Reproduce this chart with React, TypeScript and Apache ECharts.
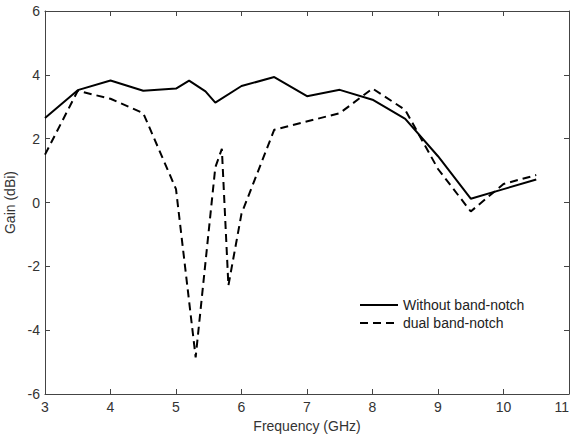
import React, { useEffect, useRef } from "react";
import * as echarts from "echarts";

const freqSolid = [3.0, 3.5, 4.0, 4.5, 5.0, 5.2, 5.45, 5.6, 6.0, 6.5, 7.0, 7.5, 8.0, 8.5, 9.0, 9.5, 10.0, 10.5];
const gainSolid = [2.65, 3.52, 3.82, 3.5, 3.57, 3.82, 3.48, 3.13, 3.65, 3.93, 3.33, 3.53, 3.22, 2.62, 1.45, 0.12, 0.42, 0.72];
const freqDual = [3.0, 3.5, 4.0, 4.5, 5.0, 5.3, 5.6, 5.7, 5.8, 6.0, 6.5, 7.5, 8.0, 8.5, 9.0, 9.5, 10.0, 10.5];
const gainDual = [1.5, 3.5, 3.25, 2.8, 0.42, -4.85, 1.1, 1.68, -2.6, -0.35, 2.28, 2.8, 3.57, 2.9, 1.05, -0.28, 0.58, 0.86];
const seriesNames = ["Without band-notch", "dual band-notch"];
const xLabel = "Frequency (GHz)";
const yLabel = "Gain (dBi)";

export default function App() {
  const ref = useRef<HTMLDivElement>(null);
  useEffect(() => {
    document.body.style.margin = "0";
    const chart = echarts.init(ref.current!, null, { renderer: "svg" });
    const font = "Arial, 'Liberation Sans', sans-serif";
    const axisColor = "#444";
    const common = {
      type: "value" as const,
      axisLine: { show: true, onZero: false, lineStyle: { color: axisColor, width: 1 } },
      axisTick: { show: true, inside: true, length: 5, lineStyle: { color: axisColor } },
      splitLine: { show: false },
    };
    chart.setOption({
      animation: false,
      backgroundColor: "#fff",
      grid: { left: 45, right: 5, top: 11, bottom: 41, containLabel: false, outerBoundsMode: "none" },
      legend: {
        orient: "vertical",
        left: 354,
        top: 293,
        itemWidth: 38,
        itemHeight: 14,
        itemGap: 4,
        itemStyle: { opacity: 0 },
        textStyle: { fontFamily: font, fontSize: 14, color: "#222" },
        data: seriesNames,
      },
      xAxis: [
        {
          ...common,
          min: 3,
          max: 11,
          interval: 1,
          position: "bottom",
          name: xLabel,
          nameLocation: "middle",
          nameGap: 24,
          nameTextStyle: { fontFamily: font, fontSize: 14, color: "#333" },
          axisLabel: {
            margin: 6,
            fontFamily: font,
            fontSize: 14,
            color: "#333",
            showMaxLabel: true,
            alignMaxLabel: "right",
          },
        },
        {
          ...common,
          min: 3,
          max: 11,
          interval: 1,
          position: "top",
          axisLabel: { show: false },
        },
      ],
      yAxis: [
        {
          ...common,
          min: -6,
          max: 6,
          interval: 2,
          position: "left",
          name: yLabel,
          nameLocation: "middle",
          nameGap: 24,
          nameTextStyle: { fontFamily: font, fontSize: 14, color: "#333" },
          axisLabel: { margin: 5, fontFamily: font, fontSize: 14, color: "#333" },
        },
        {
          ...common,
          min: -6,
          max: 6,
          interval: 2,
          position: "right",
          axisLabel: { show: false },
        },
      ],
      series: [
        {
          name: seriesNames[0],
          type: "line",
          symbol: "none",
          data: freqSolid.map((f, i) => [f, gainSolid[i]]),
          lineStyle: { color: "#000", width: 2, type: "solid" },
          itemStyle: { color: "#000" },
        },
        {
          name: seriesNames[1],
          type: "line",
          symbol: "none",
          data: freqDual.map((f, i) => [f, gainDual[i]]),
          lineStyle: { color: "#000", width: 2, type: [8, 5] },
          itemStyle: { color: "#000" },
        },
      ],
    });
    return () => chart.dispose();
  }, []);
  return (
    <div
      ref={ref}
      style={{ position: "fixed", left: 0, top: 0, width: 574, height: 435 }}
    />
  );
}
